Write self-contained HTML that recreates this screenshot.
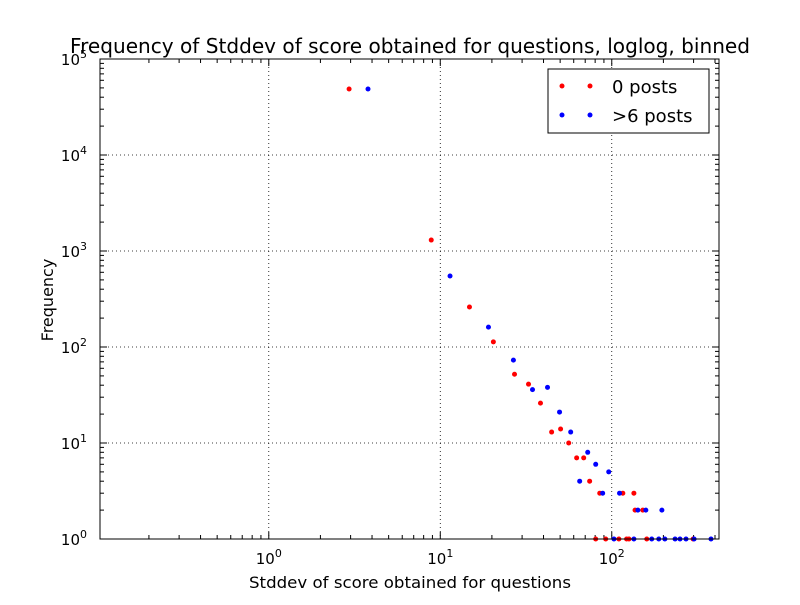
<!DOCTYPE html>
<html><head><meta charset="utf-8"><style>
body{margin:0;background:#fff;}
svg text{font-family:"DejaVu Sans","Liberation Sans",sans-serif;}
</style></head><body>
<svg id="chart" width="800" height="600" xmlns="http://www.w3.org/2000/svg">
<rect x="0" y="0" width="800" height="600" fill="#fff"/>
<g id="grid"></g>
<g id="ticks"></g>
<g id="points"></g>
<rect x="100" y="59" width="619" height="480" fill="none" stroke="#000" stroke-width="1"/>
<text x="410" y="53" font-size="20" textLength="680" lengthAdjust="spacingAndGlyphs" text-anchor="middle">Frequency of Stddev of score obtained for questions, loglog, binned</text>
<text x="410" y="588" font-size="16" textLength="322" lengthAdjust="spacingAndGlyphs" text-anchor="middle">Stddev of score obtained for questions</text>
<text x="53" y="300" font-size="16" text-anchor="middle" transform="rotate(-90 53 300)">Frequency</text>
<g>
<rect x="548" y="69" width="161" height="64" fill="#fff" stroke="#000"/>
<g>
<circle cx="562" cy="86" r="2.5" fill="#f00"/><circle cx="590" cy="86" r="2.5" fill="#f00"/>
<text x="612" y="93" font-size="18">0 posts</text></g>
<g>
<circle cx="562" cy="115" r="2.5" fill="#00f"/><circle cx="590" cy="115" r="2.5" fill="#00f"/>
<text x="612" y="122" font-size="18">&gt;6 posts</text></g>
</g>
</svg>
<script>
const redX=[2.94,8.86,14.8,20.4,27.1,32.7,38.4,44.6,50.3,56.1,62.4,68.6,74.3,85.1,116,134.6,136.7,151.6,80.6,92.2,110,122,126,160,298];
const redY=[48700,1300,261,113,52,41,26,13,14,10,7,7,4,3,3,3,2,2,1,1,1,1,1,1,1];
const blueX=[3.79,11.4,19.1,26.7,34.5,42.2,49.6,57.6,72.4,80.6,65,96,88.5,111,142,158,196,103,134.6,171,188,204,234,250,271,302,379];
const blueY=[48700,549,161,73,36,38,21,13,8,6,4,5,3,3,2,2,2,1,1,1,1,1,1,1,1,1,1];
const xTickExp=[0,1,2];
const yTickExp=[0,1,2,3,4,5];
const NS="http://www.w3.org/2000/svg";
const L=100,R=719,T=59,B=539;
const xmin=Math.log10(0.1037),xmax=Math.log10(422);
function sx(v){return L+(Math.log10(v)-xmin)/(xmax-xmin)*(R-L);}
function sy(v){return B-(Math.log10(v)-0)/(5-0)*(B-T);}
function mk(tag,attrs,parent){const e=document.createElementNS(NS,tag);for(const k in attrs)e.setAttribute(k,attrs[k]);parent.appendChild(e);return e;}
const grid=document.getElementById('grid'),ticks=document.getElementById('ticks'),pts=document.getElementById('points');
xTickExp.forEach(e=>{const x=sx(Math.pow(10,e));
 const g=mk('line',{x1:x,x2:x,y1:T,y2:B,stroke:'#000','stroke-dasharray':'1,3','stroke-width':0.8},grid);
 
 
 mk('line',{x1:x,x2:x,y1:B,y2:B-7,stroke:'#000'},ticks);mk('line',{x1:x,x2:x,y1:T,y2:T+7,stroke:'#000'},ticks);
 const t=mk('text',{x:x,y:B+25,'font-size':15,'text-anchor':'middle'},ticks);
 
 
 t.innerHTML='10<tspan dy="-7" font-size="11">'+e+'</tspan>';
});
for(let e=-1;e<=2;e++)for(let m=2;m<=9;m++){const v=m*Math.pow(10,e);const x=sx(v);if(x<L||x>R)continue;
 mk('line',{x1:x,x2:x,y1:B,y2:B-4,stroke:'#000'},ticks);mk('line',{x1:x,x2:x,y1:T,y2:T+4,stroke:'#000'},ticks);}
yTickExp.forEach(e=>{const y=sy(Math.pow(10,e));
 if(e>0&&e<5){const g=mk('line',{x1:L,x2:R,y1:y,y2:y,stroke:'#000','stroke-dasharray':'1,3','stroke-width':0.8},grid);
 
 }
 mk('line',{x1:L,x2:L+7,y1:y,y2:y,stroke:'#000'},ticks);mk('line',{x1:R,x2:R-7,y1:y,y2:y,stroke:'#000'},ticks);
 const t=mk('text',{x:L-13,y:y+6,'font-size':15,'text-anchor':'end'},ticks);
 
 
 t.innerHTML='10<tspan dy="-7" font-size="11">'+e+'</tspan>';
});
for(let e=0;e<5;e++)for(let m=2;m<=9;m++){const y=sy(m*Math.pow(10,e));
 mk('line',{x1:L,x2:L+4,y1:y,y2:y,stroke:'#000'},ticks);mk('line',{x1:R,x2:R-4,y1:y,y2:y,stroke:'#000'},ticks);}
redX.forEach((v,i)=>{const c=mk('circle',{cx:sx(v),cy:sy(redY[i]),r:2.5,fill:'#f00'},pts);
 
 });
blueX.forEach((v,i)=>{const c=mk('circle',{cx:sx(v),cy:sy(blueY[i]),r:2.5,fill:'#00f'},pts);
 
 });
</script>
</body></html>
